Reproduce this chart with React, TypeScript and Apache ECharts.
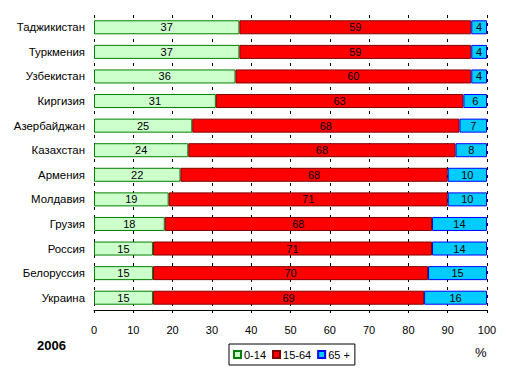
import React, { useEffect, useRef } from "react";
import * as echarts from "echarts";

const countries = [
  "Таджикистан",
  "Туркмения",
  "Узбекистан",
  "Киргизия",
  "Азербайджан",
  "Казахстан",
  "Армения",
  "Молдавия",
  "Грузия",
  "Россия",
  "Белоруссия",
  "Украина",
];
const age0_14 = [37, 37, 36, 31, 25, 24, 22, 19, 18, 15, 15, 15];
const age15_64 = [59, 59, 60, 63, 68, 68, 68, 71, 68, 71, 70, 69];
const age65 = [4, 4, 4, 6, 7, 8, 10, 10, 14, 14, 15, 16];
const seriesNames = ["0-14", "15-64", "65 +"];
const yearLabel = "2006";
const unitLabel = "%";

const FONT = "'Liberation Sans', Arial, sans-serif";

export default function App() {
  const ref = useRef<HTMLDivElement>(null);
  useEffect(() => {
    if (!ref.current) return;
    const chart = echarts.init(ref.current, null, { renderer: "svg" });
    const label = {
      show: true,
      position: "inside",
      color: "#000",
      fontSize: 11,
      fontFamily: FONT,
    };
    const styles = [
      { color: "#CCFFCC", borderColor: "#008000" },
      { color: "#FF0000", borderColor: "#800000" },
      { color: "#00CCFF", borderColor: "#0000FF" },
    ];
    const datas = [age0_14, age15_64, age65];
    chart.setOption({
      animation: false,
      backgroundColor: "#fff",
      textStyle: { fontFamily: FONT },
      grid: { left: 94, right: 26, top: 15, bottom: 64 },
      xAxis: {
        type: "value",
        min: 0,
        max: 100,
        interval: 10,
        axisLine: { show: true, lineStyle: { color: "#000", width: 1 } },
        axisTick: { show: true, length: 3, lineStyle: { color: "#000" } },
        axisLabel: { color: "#000", fontSize: 11, fontFamily: FONT, margin: 14 },
        splitLine: {
          show: true,
          lineStyle: { color: "#000", type: [3, 5], width: 1 },
        },
      },
      yAxis: {
        type: "category",
        data: countries,
        inverse: true,
        axisLine: { show: false },
        axisTick: { show: false },
        axisLabel: { color: "#000", fontSize: 11.4, fontFamily: FONT, margin: 9 },
        splitLine: { show: false },
      },
      legend: {
        data: seriesNames,
        left: 229,
        top: 344,
        orient: "horizontal",
        itemWidth: 7,
        itemHeight: 7,
        itemGap: 6,
        padding: [5, 5, 5, 4],
        borderColor: "#000",
        borderWidth: 1,
        icon: "rect",
        textStyle: { color: "#000", fontSize: 11, fontFamily: FONT, padding: [0, 0, 0, -2] },
      },
      graphic: [
        {
          type: "text",
          left: 37,
          top: 339,
          style: {
            text: yearLabel,
            font: "bold 13px " + FONT,
            fill: "#000",
          },
        },
        {
          type: "text",
          left: 475,
          top: 346,
          style: {
            text: unitLabel,
            font: "13px " + FONT,
            fill: "#000",
          },
        },
      ],
      series: seriesNames.map((name, i) => ({
        name,
        type: "bar",
        stack: "total",
        barWidth: 14,
        data: datas[i],
        label,
        itemStyle: { ...styles[i], borderWidth: 1 },
      })),
    });
    return () => chart.dispose();
  }, []);
  return (
    <div
      ref={ref}
      style={{ position: "fixed", left: 0, top: 0, width: 513, height: 374 }}
    />
  );
}
